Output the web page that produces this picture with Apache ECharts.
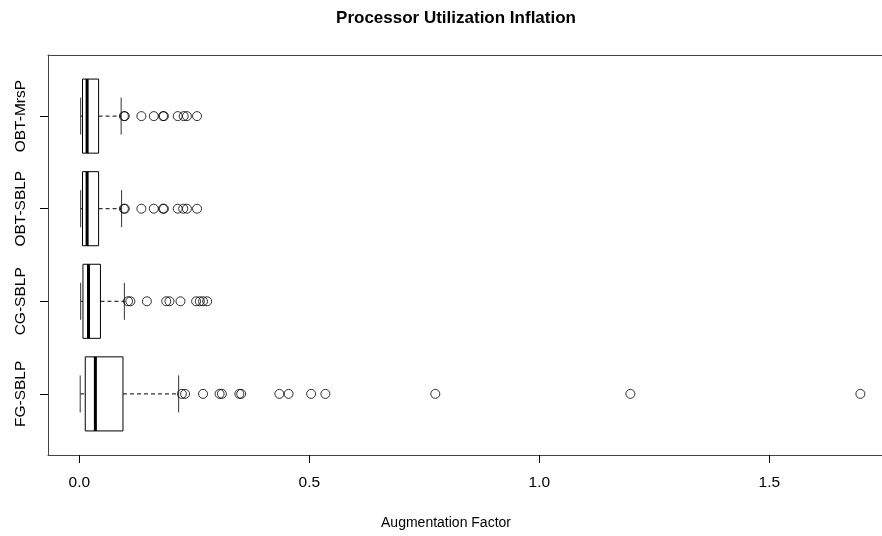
<!DOCTYPE html>
<html>
<head>
<meta charset="utf-8">
<script src="https://cdn.jsdelivr.net/npm/echarts@6/dist/echarts.min.js"></script>
<style>
html,body{margin:0;padding:0;background:#fff;}
#chart{width:882px;height:536px;}
</style>
</head>
<body>
<div id="chart"></div>
<script>
// Categories, bottom to top (y positions 1..4)
const categories = ['FG-SBLP', 'CG-SBLP', 'OBT-SBLP', 'OBT-MrsP'];
// Box statistics per category
const whiskerLow = [0.002, 0.003, 0.003, 0.003];
const q1 = [0.013, 0.008, 0.007, 0.007];
const median = [0.035, 0.020, 0.017, 0.017];
const q3 = [0.095, 0.046, 0.042, 0.042];
const whiskerHigh = [0.216, 0.098, 0.092, 0.091];
// Outliers per category
const outFG = [0.223, 0.230, 0.269, 0.305, 0.310, 0.348, 0.352, 0.435, 0.455, 0.504, 0.535, 0.774, 1.198, 1.698];
const outCG = [0.106, 0.111, 0.147, 0.189, 0.196, 0.220, 0.254, 0.262, 0.269, 0.278];
const outOBTSBLP = [0.097, 0.099, 0.135, 0.162, 0.182, 0.184, 0.214, 0.226, 0.234, 0.256];
const outOBTMrsP = [0.097, 0.099, 0.135, 0.162, 0.182, 0.184, 0.214, 0.227, 0.234, 0.256];
// Axis ticks
const xTicks = [0, 0.5, 1.0, 1.5];
const yTicks = [1, 2, 3, 4];

const outliers = [outFG, outCG, outOBTSBLP, outOBTMrsP];
const boxData = categories.map((c, i) => [i + 1, whiskerLow[i], q1[i], median[i], q3[i], whiskerHigh[i]]);
const outlierData = [];
outliers.forEach((arr, i) => arr.forEach(v => outlierData.push([v, i + 1])));

const FONT = 'Liberation Sans, Arial, Helvetica, sans-serif';
const X_MIN = -0.068, X_MAX = 1.745, Y_MIN = 0.34, Y_MAX = 4.66;

const chart = echarts.init(document.getElementById('chart'), null, {renderer: 'canvas'});

function renderBox(params, api) {
  const pos = api.value(0);
  const lo = api.value(1), a = api.value(2), m = api.value(3), b = api.value(4), hi = api.value(5);
  const half = api.size([0, 0.4])[1];
  const staple = half / 2;
  const pLo = api.coord([lo, pos]);
  const pA = api.coord([a, pos]);
  const pM = api.coord([m, pos]);
  const pB = api.coord([b, pos]);
  const pHi = api.coord([hi, pos]);
  const y = pA[1];
  const stroke = {stroke: '#000', lineWidth: 1, fill: null};
  return {
    type: 'group',
    children: [
      {type: 'line', shape: {x1: pLo[0], y1: y, x2: pA[0], y2: y}, style: Object.assign({lineDash: [4, 3]}, stroke)},
      {type: 'line', shape: {x1: pB[0], y1: y, x2: pHi[0], y2: y}, style: Object.assign({lineDash: [4, 3]}, stroke)},
      {type: 'line', shape: {x1: pLo[0], y1: y - staple, x2: pLo[0], y2: y + staple}, style: {stroke: '#333', lineWidth: 1}},
      {type: 'line', shape: {x1: pHi[0], y1: y - staple, x2: pHi[0], y2: y + staple}, style: {stroke: '#333', lineWidth: 1}},
      {type: 'rect', shape: {x: pA[0], y: y - half, width: pB[0] - pA[0], height: 2 * half}, style: {stroke: '#000', lineWidth: 1, fill: '#fff'}},
      {type: 'line', shape: {x1: pM[0], y1: y - half, x2: pM[0], y2: y + half}, style: {stroke: '#000', lineWidth: 3}}
    ]
  };
}

const frameLine = {show: true, onZero: false, lineStyle: {color: '#444', width: 1}};

const option = {
  backgroundColor: '#fff',
  animation: false,
  title: [
    {text: 'Processor Utilization Inflation', left: 456, top: 10, textAlign: 'center', padding: 0,
     textStyle: {fontFamily: FONT, fontWeight: 'bold', fontSize: 17, color: '#000'}},
    {text: 'Augmentation Factor', left: 446, top: 516, textAlign: 'center', padding: 0,
     textStyle: {fontFamily: FONT, fontWeight: 'normal', fontSize: 14, color: '#000'}}
  ],
  grid: {left: 48, top: 55, right: 0, bottom: 81, show: false},
  xAxis: [
    {
      type: 'value', min: X_MIN, max: X_MAX, position: 'bottom',
      axisLine: frameLine,
      splitLine: {show: false},
      axisTick: {show: true, length: 8, lineStyle: {color: '#000'}, customValues: xTicks},
      axisLabel: {fontFamily: FONT, fontSize: 15.5, color: '#000', margin: 20, customValues: xTicks,
                  formatter: v => v.toFixed(1)}
    },
    {
      type: 'value', min: X_MIN, max: X_MAX, position: 'top',
      axisLine: frameLine,
      splitLine: {show: false}, axisTick: {show: false}, axisLabel: {show: false}
    }
  ],
  yAxis: {
    type: 'value', min: Y_MIN, max: Y_MAX, position: 'left',
    axisLine: frameLine,
    splitLine: {show: false},
    axisTick: {show: true, length: 8, lineStyle: {color: '#000'}, customValues: yTicks},
    axisLabel: {fontFamily: FONT, fontSize: 15.5, color: '#000', margin: 19, rotate: 90, customValues: yTicks,
                formatter: v => categories[Math.round(v) - 1] || ''}
  },
  series: [
    {type: 'custom', renderItem: renderBox, data: boxData, encode: {x: [1, 2, 3, 4, 5], y: 0}, z: 2, xAxisIndex: 0},
    {type: 'scatter', data: outlierData, symbol: 'circle', symbolSize: 9, xAxisIndex: 0,
     itemStyle: {color: 'transparent', borderColor: '#000', borderWidth: 1}, z: 3}
  ]
};
chart.setOption(option);
</script>
</body>
</html>
